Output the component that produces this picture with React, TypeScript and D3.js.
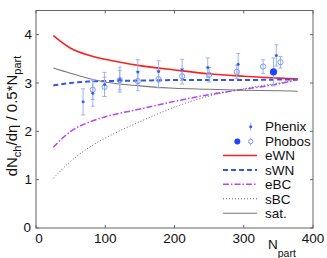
import React from "react";
import * as d3 from "d3";

const curveN = [25, 50, 75, 100, 150, 200, 250, 300, 350, 378];
const eWN = [3.98, 3.72, 3.58, 3.49, 3.36, 3.27, 3.19, 3.14, 3.1, 3.08];
const sWN = [2.95, 3.0, 3.03, 3.04, 3.05, 3.06, 3.06, 3.06, 3.07, 3.07];
const eBC = [1.67, 2.0, 2.18, 2.3, 2.46, 2.62, 2.76, 2.87, 2.98, 3.07];
const sBC = [1.03, 1.38, 1.65, 1.86, 2.2, 2.5, 2.73, 2.88, 3.0, 3.07];
const sat = [3.31, 3.2, 3.1, 3.02, 2.94, 2.89, 2.87, 2.85, 2.84, 2.83];

const phenixN = [68, 82, 99, 121, 147, 177, 211, 248, 292, 347];
const phenixV = [2.61, 2.79, 2.97, 3.07, 3.23, 3.24, 3.27, 3.32, 3.39, 3.57];
const phenixErr = [0.27, 0.27, 0.25, 0.26, 0.25, 0.22, 0.22, 0.2, 0.22, 0.22];

const phobosOpenN = [82, 99, 121, 147, 177, 211, 250, 290, 328, 353];
const phobosOpenV = [2.86, 2.92, 3.06, 3.04, 3.08, 3.14, 3.17, 3.23, 3.34, 3.43];
const phobosOpenErr = [0.2, 0.2, 0.2, 0.2, 0.18, 0.16, 0.15, 0.14, 0.14, 0.12];

const phobosFullN = [343];
const phobosFullV = [3.23];
const phobosFullErr = [0.29];

const xTicks = [0, 100, 200, 300, 400];
const yTicks = [0, 1, 2, 3, 4];

const width = 327;
const height = 258;
const margin = { top: 10.5, right: 14, bottom: 30, left: 36 };

const font = "Liberation Sans, Arial, Helvetica, sans-serif";
const axisColor = "#666";
const errColor = "#9db3ef";
const markColor = "#3a5cf0";

const curves = [
  { name: "eWN", values: eWN, color: "#ff1f1f", width: 1.6, dash: "" },
  { name: "sWN", values: sWN, color: "#3355ee", width: 2, dash: "5,3" },
  { name: "eBC", values: eBC, color: "#b545ff", width: 1.5, dash: "6,2,1.5,2" },
  { name: "sBC", values: sBC, color: "#666", width: 1, dash: "1,2" },
  { name: "sat.", values: sat, color: "#777", width: 1.1, dash: "" },
];

function App() {
  const innerWidth = width - margin.left - margin.right;
  const innerHeight = height - margin.top - margin.bottom;

  const x = d3.scaleLinear().domain([0, 400]).range([0, innerWidth]);
  const y = d3.scaleLinear().domain([0, 4.5]).range([innerHeight, 0]);

  const line = d3
    .line<number>()
    .x((_, i) => x(curveN[i]))
    .y(d => y(d))
    .curve(d3.curveMonotoneX);

  const errBar = (n: number, v: number, e: number, key: string) => (
    <g key={key} stroke={errColor} strokeWidth={1}>
      <line x1={x(n)} x2={x(n)} y1={y(v - e)} y2={y(v + e)} />
      <line x1={x(n) - 2} x2={x(n) + 2} y1={y(v - e)} y2={y(v - e)} />
      <line x1={x(n) - 2} x2={x(n) + 2} y1={y(v + e)} y2={y(v + e)} />
    </g>
  );

  const legendX = 223 - margin.left;
  const legendText = 265 - margin.left;
  const legendRows = [126.7, 141.5, 155.5, 170, 184.3, 198.8, 213.3].map(v => v - margin.top);

  return (
    <svg
      width={width}
      height={height}
      style={{ position: "absolute", left: 0, top: 0, background: "#fff" }}
      fontFamily={font}
    >
      <g transform={`translate(${margin.left},${margin.top})`}>
        {curves.map(c => (
          <path
            key={c.name}
            d={line(c.values) ?? undefined}
            fill="none"
            stroke={c.color}
            strokeWidth={c.width}
            strokeDasharray={c.dash || undefined}
          />
        ))}

        {phenixN.map((n, i) => errBar(n, phenixV[i], phenixErr[i], "pe" + i))}
        {phobosOpenN.map((n, i) => errBar(n, phobosOpenV[i], phobosOpenErr[i], "oe" + i))}
        {phobosFullN.map((n, i) => errBar(n, phobosFullV[i], phobosFullErr[i], "fe" + i))}

        {phobosOpenN.map((n, i) => (
          <circle key={"o" + i} cx={x(n)} cy={y(phobosOpenV[i])} r={2.6} fill="none" stroke="#7f9bf0" strokeWidth={1} />
        ))}
        {phenixN.map((n, i) => (
          <circle key={"p" + i} cx={x(n)} cy={y(phenixV[i])} r={1.5} fill={markColor} />
        ))}
        {phobosFullN.map((n, i) => (
          <circle key={"f" + i} cx={x(n)} cy={y(phobosFullV[i])} r={3.6} fill="#1f44ff" />
        ))}

        {/* legend */}
        <g fontSize={13.5} fill="#111">
          <line x1={250.7 - margin.left} x2={250.7 - margin.left} y1={legendRows[0] - 4} y2={legendRows[0] + 4} stroke={errColor} />
          <circle cx={250.7 - margin.left} cy={legendRows[0]} r={1.5} fill={markColor} />
          <text x={legendText} y={legendRows[0]} dy="0.35em">Phenix</text>

          <circle cx={237.3 - margin.left} cy={legendRows[1]} r={3} fill="#1f44ff" />
          <line x1={250.7 - margin.left} x2={250.7 - margin.left} y1={legendRows[1] - 4} y2={legendRows[1] + 4} stroke={errColor} />
          <circle cx={250.7 - margin.left} cy={legendRows[1]} r={2.2} fill="#fff" stroke="#7f9bf0" />
          <text x={legendText} y={legendRows[1]} dy="0.35em">Phobos</text>

          {curves.map((c, i) => (
            <g key={"l" + c.name}>
              <line
                x1={legendX}
                x2={legendX + 34}
                y1={legendRows[i + 2]}
                y2={legendRows[i + 2]}
                stroke={c.color}
                strokeWidth={c.width}
                strokeDasharray={c.dash || undefined}
              />
              <text x={legendText} y={legendRows[i + 2]} dy="0.35em">{c.name}</text>
            </g>
          ))}
        </g>

        {/* axes box */}
        <rect x={0} y={0} width={innerWidth} height={innerHeight} fill="none" stroke={axisColor} strokeWidth={1} />
        {xTicks.map(t => (
          <g key={"xt" + t} stroke={axisColor}>
            <line x1={x(t)} x2={x(t)} y1={innerHeight} y2={innerHeight - 3} />
            <line x1={x(t)} x2={x(t)} y1={0} y2={3} />
          </g>
        ))}
        {yTicks.map(t => (
          <g key={"yt" + t} stroke={axisColor}>
            <line x1={0} x2={3} y1={y(t)} y2={y(t)} />
            <line x1={innerWidth} x2={innerWidth - 3} y1={y(t)} y2={y(t)} />
          </g>
        ))}
        <g fontSize={13.5} fill="#111">
          {xTicks.map(t => (
            <text key={"xl" + t} x={t === 0 ? x(t) + 3 : x(t)} y={innerHeight + 15} textAnchor="middle">
              {t}
            </text>
          ))}
          {yTicks.map(t => (
            <text key={"yl" + t} x={t === 0 ? -5 : -4} y={t === 0 ? y(t) - 1 : y(t)} dy="0.35em" textAnchor="end">
              {t}
            </text>
          ))}
          <text x={268 - margin.left} y={248.5 - margin.top}>
            N<tspan fontSize={10.5} dy={8}>part</tspan>
          </text>
        </g>
      </g>

      <text
        transform="translate(17,116) rotate(-90)"
        textAnchor="middle"
        fontSize={15}
        fill="#111"
      >
        dN<tspan fontSize={11} dy={4}>ch</tspan>
        <tspan dy={-4}>/dη / 0.5*N</tspan>
        <tspan fontSize={11} dy={4}>part</tspan>
      </text>
    </svg>
  );
}

export default App;
